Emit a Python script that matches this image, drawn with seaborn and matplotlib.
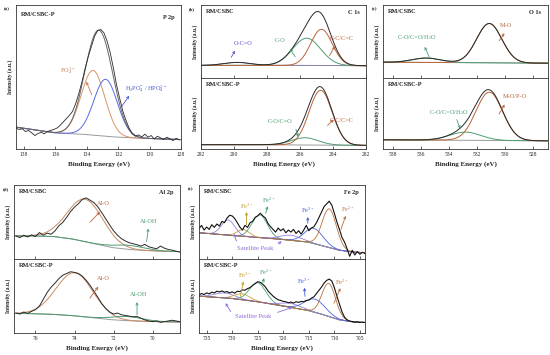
import numpy as np
import seaborn as sns
import matplotlib.pyplot as plt

# ---------------- data (intensity in arbitrary units) ----------------
# (a) P 2p, RM/CSBC-P
p2p_ev = [138.5, 138.3, 138.1, 137.9, 137.7, 137.5, 137.3, 137.1, 136.9, 136.7, 136.5, 136.3, 136.1,
          135.9, 135.7, 135.5, 135.3, 135.1, 134.9, 134.7, 134.5, 134.3, 134.1, 133.9, 133.7, 133.5,
          133.3, 133.1, 132.9, 132.7, 132.5, 132.3, 132.1, 131.9, 131.7, 131.5, 131.3, 131.1, 130.9,
          130.7, 130.5, 130.3, 130.1, 129.9, 129.7, 129.5, 129.3, 129.1, 128.9, 128.7, 128.5, 128.3, 128.1]
p2p_raw = [62, 58, 60, 52, 55, 48, 40, 46, 50, 45, 52, 55, 58, 62, 70, 80, 90, 100, 112, 135, 165, 200,
           240, 275, 305, 335, 352, 355, 345, 320, 285, 240, 190, 150, 112, 85, 62, 45, 38, 42, 36, 44,
           35, 40, 30, 38, 33, 28, 35, 30, 25, 32, 27]
p2p_bg_ev = [138.5, 136, 134, 132, 130, 128]
p2p_bg = [65, 48, 43, 35, 31, 28]
p2p_center = [133.6, 132.8]
p2p_height = [192, 169]
p2p_sigma = [0.75, 0.75]

# (b) C 1s
c1s_top_bg_ev = [292, 288, 285, 282]
c1s_top_bg = [38, 38, 38, 37]
c1s_top_center = [289.8, 285.6, 284.7]      # O-C=O, C-O, C-C/C=C
c1s_top_height = [9, 82, 109]
c1s_top_sigma = [0.8, 0.85, 0.65]
c1s_bot_bg_ev = [292, 288, 285, 282]
c1s_bot_bg = [12, 12, 11, 10]
c1s_bot_center = [285.7, 284.75]            # C-O/C=O, C-C/C=C
c1s_bot_height = [20, 152]
c1s_bot_sigma = [0.8, 0.7]

# (c) O 1s
o1s_top_bg_ev = [538.7, 534, 531, 526.9]
o1s_top_bg = [47, 46, 45, 44]
o1s_top_center = [535.6, 531.1]             # C-O/C=O/H2O, M-O
o1s_top_height = [13, 117]
o1s_top_sigma = [1.0, 0.9]
o1s_bot_bg_ev = [538.7, 534, 531, 526.9]
o1s_bot_bg = [26, 25, 24, 23]
o1s_bot_center = [532.8, 531.1]             # C-O/C=O/H2O, M-O/P-O
o1s_bot_height = [23, 136]
o1s_bot_sigma = [1.1, 0.95]

# (d) Al 2p
al_ev = [77.0, 76.8, 76.6, 76.4, 76.2, 76.0, 75.8, 75.6, 75.4, 75.2, 75.0, 74.8, 74.6, 74.4, 74.2,
         74.0, 73.8, 73.6, 73.4, 73.2, 73.0, 72.8, 72.6, 72.4, 72.2, 72.0, 71.8, 71.6, 71.4, 71.2,
         71.0, 70.8, 70.6, 70.4, 70.2, 70.0, 69.8, 69.6, 69.4, 69.2, 69.0, 68.8, 68.6]
al_top_raw = [68, 63, 70, 65, 71, 66, 78, 70, 76, 73, 83, 98, 108, 123, 140, 153, 163, 176, 180, 173,
              166, 153, 136, 118, 100, 83, 70, 60, 53, 48, 45, 42, 38, 43, 36, 33, 30, 38, 32, 28, 26, 23, 20]
al_bot_raw = [58, 55, 61, 57, 63, 68, 78, 98, 118, 133, 145, 158, 168, 173, 178, 176, 173, 165, 153,
              138, 121, 103, 85, 71, 61, 55, 58, 53, 51, 49, 47, 48, 43, 38, 35, 33, 35, 31, 33, 35, 37, 35, 33]
al_top_bg_ev = [77.1, 76, 75, 74, 73, 72, 71, 70, 69, 68.6]
al_top_bg = [68, 68, 66, 58, 45, 33, 27, 24, 22, 22]
al_bot_bg_ev = [77.1, 76, 75, 74, 73, 72, 71, 70, 68.6]
al_bot_bg = [57, 56, 54, 50, 44, 38, 35, 33, 32]
al_top_center = [73.45, 71.2]               # Al-O, Al-OH
al_top_height = [125, 12]
al_top_sigma = [0.92, 0.8]
al_bot_center = [74.0, 71.3]
al_bot_height = [125, 12]
al_bot_sigma = [0.95, 0.8]

# (e) Fe 2p
fe_ev = [736.5, 736.0, 735.5, 735.0, 734.5, 734.0, 733.5, 733.0, 732.5, 732.0, 731.5, 731.0, 730.5,
         730.0, 729.5, 729.0, 728.5, 728.0, 727.5, 727.0, 726.5, 726.0, 725.5, 725.0, 724.5, 724.0,
         723.5, 723.0, 722.5, 722.0, 721.5, 721.0, 720.5, 720.0, 719.5, 719.0, 718.5, 718.0, 717.5,
         717.0, 716.5, 716.0, 715.5, 715.0, 714.5, 714.0, 713.5, 713.0, 712.5, 712.0, 711.5, 711.0,
         710.5, 710.0, 709.5, 709.0, 708.5, 708.0, 707.5, 707.0, 706.5, 706.0, 705.5, 705.0, 704.5, 704.0]
fe_top_raw = [90, 100, 86, 95, 88, 102, 94, 104, 98, 112, 108, 122, 130, 128, 120, 108, 95, 86, 100, 94,
              108, 112, 124, 128, 136, 128, 122, 106, 96, 88, 80, 92, 84, 90, 78, 86, 80, 88, 76, 84,
              74, 86, 100, 84, 92, 96, 108, 124, 140, 156, 164, 172, 160, 136, 110, 88, 64, 50, 30, 8,
              26, 12, 22, 14, 20, 16]
fe_bot_raw = [116, 120, 117, 122, 119, 124, 122, 127, 125, 128, 124, 126, 122, 125, 121, 127, 126, 131,
              130, 135, 138, 145, 150, 156, 154, 148, 140, 128, 120, 112, 106, 101, 99, 96, 95, 92, 94,
              91, 95, 93, 96, 95, 99, 100, 106, 110, 120, 130, 140, 152, 160, 164, 158, 138, 112, 88,
              64, 48, 40, 36, 35, 33, 34, 32, 33, 32]
fe_bg_ev = [736.5, 730, 725, 720, 715, 712, 709, 706, 704]
fe_top_bg = [78, 70, 64, 58, 50, 38, 26, 20, 19]
fe_bot_bg = [112, 105, 95, 82, 68, 55, 40, 33, 32]
fe_names = ['sat1', 'Fe3+ (2p1/2)', 'Fe2+ (2p1/2)', 'sat2', 'Fe3+ (2p3/2)', 'Fe2+ (2p3/2)']
fe_top_center = [730.8, 727.8, 724.6, 718.5, 714.0, 711.0]
fe_top_height = [45, 20, 68, 15, 45, 115]
fe_top_sigma = [1.3, 1.2, 1.5, 2.0, 1.8, 1.4]
fe_bot_center = [731.5, 728.0, 725.0, 718.5, 713.8, 711.1]
fe_bot_height = [15, 18, 58, 12, 40, 100]
fe_bot_sigma = [2.0, 1.5, 1.6, 2.0, 2.0, 1.35]
fe_colors = ['#9B80DF', '#C9A43A', '#4FA070', '#9B80DF', '#4B62D8', '#B8703F']

# ---------------- style ----------------
sns.set_style("ticks")
plt.rcParams['font.family'] = ['Liberation Serif', 'DejaVu Serif']
plt.rcParams['mathtext.default'] = 'regular'

W, H = 550, 355
fig = plt.figure(figsize=(W / 100, H / 100), dpi=100)


def px_axes(l, t, r, b):
    return fig.add_axes([l / W, 1 - b / H, (r - l) / W, (b - t) / H])


def fit_curves(grid, bg_ev, bg_val, centers, heights, sigmas):
    bg = np.interp(grid, bg_ev[::-1], bg_val[::-1])
    comps = [h * np.exp(-(grid - c) ** 2 / (2 * s * s)) for c, h, s in zip(centers, heights, sigmas)]
    return bg, [bg + c for c in comps], bg + np.sum(comps, axis=0)


def style_ax(ax, xlim, ylim, xticks, show_x=True):
    ax.set_xlim(*xlim)
    ax.set_ylim(*ylim)
    ax.set_yticks([])
    ax.set_xticks(xticks)
    ax.set_ylabel('Intensity (a.u.)', fontsize=4, fontweight='bold', labelpad=2)
    ax.tick_params(axis='x', direction='in', length=2, width=0.5, labelsize=4, pad=2)
    if not show_x:
        ax.tick_params(axis='x', labelbottom=False)
    else:
        ax.set_xlabel('Binding Energy (eV)', fontsize=5, fontweight='bold', labelpad=3)
    for s in ax.spines.values():
        s.set_linewidth(0.6)
        s.set_color('#333333')


def tag(ax, text, x, y, color, arrow_from=None, arrow_to=None, size=4.5):
    ax.text(x, y, text, color=color, fontsize=size, ha='center', va='center')
    if arrow_from is not None:
        ax.annotate('', xy=arrow_to, xytext=arrow_from,
                    arrowprops=dict(arrowstyle='->', color=color, lw=0.6, mutation_scale=4))


def corner(ax, left, right):
    ax.text(0.03, 0.95, left, transform=ax.transAxes, fontsize=4.5, fontweight='bold', va='top')
    if right:
        ax.text(0.96, 0.93, right, transform=ax.transAxes, fontsize=4.5, fontweight='bold',
                va='top', ha='right')


GRAY = '#9a9a9a'
DARK = '#2a2a2a'
BROWN = '#B8643A'
GREEN = '#4E9C72'
TOP_B = 149
BOT_B = 333

# ---------------- (a) P 2p ----------------
ax = px_axes(16, 5, 181, TOP_B)
g = np.linspace(138.5, 128, 300)
bg, comps, env = fit_curves(g, p2p_bg_ev, p2p_bg, p2p_center, p2p_height, p2p_sigma)
sns.lineplot(x=g, y=bg, ax=ax, color=GRAY, lw=0.7)
sns.lineplot(x=g, y=comps[0], ax=ax, color='#D9956A', lw=0.7)
sns.lineplot(x=g, y=comps[1], ax=ax, color='#5A6BE0', lw=0.7)
sns.lineplot(x=g, y=env, ax=ax, color='#666666', lw=0.7)
sns.lineplot(x=p2p_ev, y=p2p_raw, ax=ax, color=DARK, lw=0.6)
style_ax(ax, (138.5, 128), (0, 428), [138, 136, 134, 132, 130, 128])
corner(ax, 'RM/CSBC-P', 'P 2p')
tag(ax, r'PO$_4^{3-}$', 135.2, 233, '#C8805A', (133.6, 153), (134.1, 208))
tag(ax, r'H$_2$PO$_4^{-}$ / HPO$_4^{2-}$', 130.2, 181, '#4A5BD0', (131.9, 118), (131.2, 165))

# ---------------- (b) C 1s ----------------
MID_T = 78
ax1 = px_axes(201, 5, 366, MID_T)
ax2 = px_axes(201, MID_T, 366, TOP_B)
g = np.linspace(292, 282, 300)
bg, comps, env = fit_curves(g, c1s_top_bg_ev, c1s_top_bg, c1s_top_center, c1s_top_height, c1s_top_sigma)
sns.lineplot(x=g, y=bg, ax=ax1, color=GRAY, lw=0.7)
sns.lineplot(x=g, y=comps[0], ax=ax1, color='#8a80b0', lw=0.6)
sns.lineplot(x=g, y=comps[1], ax=ax1, color=GREEN, lw=0.7)
sns.lineplot(x=g, y=comps[2], ax=ax1, color=BROWN, lw=0.7)
sns.lineplot(x=g, y=env, ax=ax1, color=DARK, lw=0.7)
style_ax(ax1, (292, 282), (0, 220), [292, 290, 288, 286, 284, 282], show_x=False)
corner(ax1, 'RM/CSBC', 'C 1s')
tag(ax1, 'O-C=O', 289.45, 103, '#6A50C0', (290.25, 55), (289.85, 90))
tag(ax1, 'C-O', 287.2, 113, GREEN, (286.2, 57), (286.7, 95))
tag(ax1, 'C-C/C=C', 283.5, 120, BROWN, (284.3, 60), (283.8, 103))

bg, comps, env = fit_curves(g, c1s_bot_bg_ev, c1s_bot_bg, c1s_bot_center, c1s_bot_height, c1s_bot_sigma)
sns.lineplot(x=g, y=bg, ax=ax2, color=GRAY, lw=0.7)
sns.lineplot(x=g, y=comps[0], ax=ax2, color=GREEN, lw=0.7)
sns.lineplot(x=g, y=comps[1], ax=ax2, color=BROWN, lw=0.7)
sns.lineplot(x=g, y=env, ax=ax2, color=DARK, lw=0.7)
style_ax(ax2, (292, 282), (0, 197), [292, 290, 288, 286, 284, 282])
corner(ax2, 'RM/CSBC-P', None)
tag(ax2, 'C-C/C=C', 283.5, 80, BROWN, (284.45, 60), (283.85, 87))
tag(ax2, 'C-O/C=O', 287.2, 75, GREEN, (286.3, 62), (286.05, 26))

# ---------------- (c) O 1s ----------------
ax1 = px_axes(383, 5, 548, MID_T)
ax2 = px_axes(383, MID_T, 548, TOP_B)
g = np.linspace(538.7, 526.9, 300)
bg, comps, env = fit_curves(g, o1s_top_bg_ev, o1s_top_bg, o1s_top_center, o1s_top_height, o1s_top_sigma)
sns.lineplot(x=g, y=bg, ax=ax1, color=GRAY, lw=0.7)
sns.lineplot(x=g, y=comps[0], ax=ax1, color=GREEN, lw=0.7)
sns.lineplot(x=g, y=comps[1], ax=ax1, color=BROWN, lw=0.7)
sns.lineplot(x=g, y=env, ax=ax1, color=DARK, lw=0.7)
style_ax(ax1, (538.7, 526.9), (0, 217), [538, 536, 534, 532, 530, 528], show_x=False)
corner(ax1, 'RM/CSBC', 'O 1s')
tag(ax1, r'C-O/C=O/H$_2$O', 536.3, 120, GREEN, (535.3, 54), (535.8, 100))
tag(ax1, 'M-O', 529.9, 157, BROWN, (530.5, 104), (529.9, 140))

bg, comps, env = fit_curves(g, o1s_bot_bg_ev, o1s_bot_bg, o1s_bot_center, o1s_bot_height, o1s_bot_sigma)
sns.lineplot(x=g, y=bg, ax=ax2, color=GRAY, lw=0.7)
sns.lineplot(x=g, y=comps[0], ax=ax2, color=GREEN, lw=0.7)
sns.lineplot(x=g, y=comps[1], ax=ax2, color=BROWN, lw=0.7)
sns.lineplot(x=g, y=env, ax=ax2, color=DARK, lw=0.7)
style_ax(ax2, (538.7, 526.9), (0, 200), [538, 536, 534, 532, 530, 528])
corner(ax2, 'RM/CSBC-P', None)
tag(ax2, 'M-O/P-O', 529.3, 147, BROWN, (530.5, 92), (529.9, 132))
tag(ax2, r'C-O/C=O/H$_2$O', 534.0, 104, GREEN, (533.5, 90), (533.1, 50))

# ---------------- (d) Al 2p ----------------
ax1 = px_axes(14, 185, 180, 259)
ax2 = px_axes(14, 259, 180, BOT_B)
g = np.linspace(77.1, 68.6, 300)
for a, raw, bgx, bgv, cen, hei, sig, hmax, show in [
        (ax1, al_top_raw, al_top_bg_ev, al_top_bg, al_top_center, al_top_height, al_top_sigma, 218, False),
        (ax2, al_bot_raw, al_bot_bg_ev, al_bot_bg, al_bot_center, al_bot_height, al_bot_sigma, 215, True)]:
    bg, comps, env = fit_curves(g, bgx, bgv, cen, hei, sig)
    sns.lineplot(x=g, y=bg, ax=a, color=GRAY, lw=0.7)
    sns.lineplot(x=g, y=comps[0], ax=a, color='#C98A62', lw=0.7)
    sns.lineplot(x=g, y=comps[1], ax=a, color=GREEN, lw=0.7)
    sns.lineplot(x=al_ev, y=raw, ax=a, color=DARK, lw=0.7)
    style_ax(a, (77.1, 68.6), (0, hmax), [76, 74, 72, 70], show_x=show)
corner(ax1, 'RM/CSBC', 'Al 2p')
corner(ax2, 'RM/CSBC-P', None)
tag(ax1, 'Al-O', 72.5, 163, BROWN, (73.3, 103), (72.6, 145))
tag(ax1, 'Al-OH', 70.2, 110, GREEN, (70.33, 43), (70.2, 98))
tag(ax2, 'Al-O', 72.5, 158, BROWN, (73.3, 95), (72.7, 141))
tag(ax2, 'Al-OH', 70.7, 111, GREEN, (70.8, 45), (70.8, 98))

# ---------------- (e) Fe 2p ----------------
ax1 = px_axes(199, 185, 365, 259)
ax2 = px_axes(199, 259, 365, BOT_B)
g = np.linspace(736.5, 704, 400)
for a, raw, bgv, cen, hei, sig, hmax, show in [
        (ax1, fe_top_raw, fe_top_bg, fe_top_center, fe_top_height, fe_top_sigma, 220, False),
        (ax2, fe_bot_raw, fe_bot_bg, fe_bot_center, fe_bot_height, fe_bot_sigma, 225, True)]:
    bg, comps, env = fit_curves(g, fe_bg_ev, bgv, cen, hei, sig)
    sns.lineplot(x=g, y=bg, ax=a, color=GRAY, lw=0.7)
    for comp, col in zip(comps, fe_colors):
        sns.lineplot(x=g, y=comp, ax=a, color=col, lw=0.6)
    sns.lineplot(x=fe_ev, y=raw, ax=a, color='#111111', lw=0.8)
    style_ax(a, (736.5, 704), (0, hmax), [735, 730, 725, 720, 715, 710, 705], show_x=show)
corner(ax1, 'RM/CSBC', 'Fe 2p')
corner(ax2, 'RM/CSBC-P', None)

OLIVE, FGREEN, BLUE, FBROWN, PURPLE = '#C09A20', '#3E9A66', '#3D55D6', '#B8703F', '#8C6BD8'
tag(ax1, r'Fe$^{3+}$', 727.2, 158, OLIVE, (727.2, 93), (727.2, 148))
tag(ax1, r'Fe$^{2+}$', 722.8, 175, FGREEN, (723.6, 128), (722.9, 165))
tag(ax1, r'Fe$^{3+}$', 715.2, 145, BLUE, (715.2, 98), (715.2, 133))
tag(ax1, r'Fe$^{2+}$', 707.3, 148, FBROWN, (708.9, 80), (707.6, 136))
tag(ax1, 'Satellite Peak', 725.5, 32, PURPLE, size=4.8)
tag(ax1, '', 0, 0, PURPLE, (729.0, 45), (729.8, 83))
tag(ax1, '', 0, 0, PURPLE, (721.4, 40), (719.9, 58))

tag(ax2, r'Fe$^{3+}$', 727.5, 175, OLIVE, (728.5, 103), (727.7, 165))
tag(ax2, r'Fe$^{2+}$', 723.5, 185, FGREEN, (724.2, 143), (723.6, 175))
tag(ax2, r'Fe$^{3+}$', 716.0, 157, BLUE, (715.7, 103), (715.9, 146))
tag(ax2, r'Fe$^{2+}$', 708.6, 155, FBROWN, (710.3, 83), (708.6, 144))
tag(ax2, 'Satellite Peak', 725.8, 50, PURPLE, size=4.8)
tag(ax2, '', 0, 0, PURPLE, (730.0, 58), (731.6, 98))
tag(ax2, '', 0, 0, PURPLE, (721.6, 60), (717.7, 81))

# panel letters
for lab, x, y in [('(a)', 4, 9), ('(b)', 189, 9), ('(c)', 372, 9), ('(d)', 3, 189), ('(e)', 188, 189)]:
    fig.text(x / W, 1 - y / H, lab, fontsize=3.5, fontweight='bold', va='center')

plt.savefig('out.png', dpi=100)
